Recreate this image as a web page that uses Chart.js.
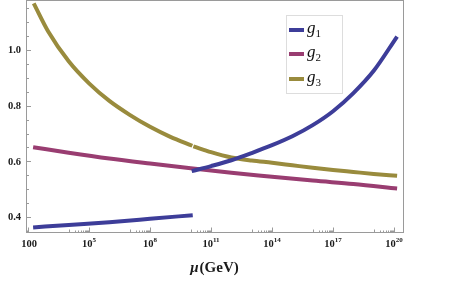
<!DOCTYPE html>
<html>
<head>
<meta charset="utf-8">
<script src="https://cdn.jsdelivr.net/npm/chart.js@4"></script>
<style>
  html, body { margin: 0; padding: 0; background: #fff; }
  #wrap { width: 454px; height: 283px; }
</style>
</head>
<body>
<div id="wrap"><canvas id="couplingChart" width="454" height="283"></canvas></div>
<script>
// Running couplings (x = log10 of mu in GeV)
const g1LowExp = [2.25, 4, 6, 8, 10.1];
const g1Low = [0.363, 0.372, 0.382, 0.394, 0.407];
const g1HighExp = [10.05, 11, 12, 13, 14, 15, 16, 17, 18, 19, 20.15];
const g1High = [0.565, 0.583, 0.604, 0.63, 0.658, 0.69, 0.73, 0.78, 0.845, 0.925, 1.048];

const g2Exp = [2.25, 4, 6, 8, 10, 12, 14, 16, 18, 20.15];
const g2 = [0.651, 0.631, 0.61, 0.592, 0.575, 0.559, 0.545, 0.531, 0.519, 0.503];

const g3LowExp = [2.28, 3, 4, 5, 6, 7, 8, 9, 10.08];
const g3Low = [1.167, 1.065, 0.959, 0.880, 0.817, 0.767, 0.724, 0.688, 0.656];
const g3HighExp = [10.13, 11, 12, 13, 14, 15, 16, 17, 18, 19, 20.15];
const g3High = [0.654, 0.633, 0.614, 0.603, 0.595, 0.586, 0.577, 0.569, 0.562, 0.555, 0.548];

// axis ticks
const xTickExp = [2, 5, 8, 11, 14, 17, 20];
const yTicks = [0.4, 0.6, 0.8, 1.0];
const legendNames = ['1', '2', '3'];

const blue = 'rgb(61, 61, 153)';
const purple = 'rgb(153, 61, 113)';
const olive = 'rgb(153, 139, 61)';

function pts(exps, vals) {
    return exps.map((e, i) => ({ x: Math.pow(10, e), y: vals[i] }));
}

function line(data, color) {
    return {
        data: data,
        borderColor: color,
        borderWidth: 4,
        pointRadius: 0,
        fill: false,
        cubicInterpolationMode: 'monotone',
        borderCapStyle: 'butt'
    };
}

const serif = '"Liberation Serif", "DejaVu Serif", serif';

// frame, ticks, labels and legend drawn on top of the scales
const framePlugin = {
    id: 'frame',
    afterDraw(chart) {
        const ctx = chart.ctx;
        const a = chart.chartArea;
        const xs = chart.scales.x;
        const ys = chart.scales.y;
        ctx.save();

        // frame
        ctx.strokeStyle = '#9a9a9a';
        ctx.lineWidth = 1;
        ctx.strokeRect(Math.round(a.left) + 0.5, Math.round(a.top) + 0.5,
            Math.round(a.right - a.left), Math.round(a.bottom - a.top) - 1);

        // y ticks every 0.05, labelled every 0.2
        ctx.beginPath();
        for (let v = 0.35; v <= 1.16; v += 0.05) {
            const y = Math.round(ys.getPixelForValue(v)) + 0.5;
            const major = yTicks.some(t => Math.abs(t - v) < 1e-6);
            ctx.moveTo(a.left, y);
            ctx.lineTo(a.left + (major ? 5 : 3), y);
        }
        // x ticks: majors plus the decade below each
        const bottom = Math.round(a.bottom) - 0.5;
        xTickExp.forEach(n => {
            const x = Math.round(xs.getPixelForValue(Math.pow(10, n))) + 0.5;
            ctx.moveTo(x, bottom);
            ctx.lineTo(x, bottom - 5);
            for (let k = 1; k <= 9; k++) {
                const v = k * Math.pow(10, n - 1);
                if (v < xs.min) continue;
                const mx = Math.round(xs.getPixelForValue(v)) + 0.5;
                ctx.moveTo(mx, bottom);
                ctx.lineTo(mx, bottom - (k === 1 ? 3 : 2));
            }
        });
        ctx.stroke();

        ctx.fillStyle = '#1a1a1a';
        // y labels
        ctx.font = 'bold 10.5px ' + serif;
        ctx.textAlign = 'right';
        ctx.textBaseline = 'middle';
        yTicks.forEach(v => {
            ctx.fillText(v.toFixed(1), 21, ys.getPixelForValue(v) + 0.5);
        });

        // x labels: 100, then 10^n
        ctx.textBaseline = 'alphabetic';
        xTickExp.forEach(n => {
            const x = xs.getPixelForValue(Math.pow(10, n));
            if (n === 2) {
                ctx.font = 'bold 10.5px ' + serif;
                ctx.textAlign = 'center';
                ctx.fillText('100', x + 1, 247);
                return;
            }
            ctx.font = 'bold 10.5px ' + serif;
            const base = ctx.measureText('10').width;
            ctx.font = 'bold 7px ' + serif;
            const exp = String(n);
            const ew = ctx.measureText(exp).width;
            const left = x - (base + ew) / 2;
            ctx.textAlign = 'left';
            ctx.font = 'bold 10.5px ' + serif;
            ctx.fillText('10', left, 247);
            ctx.font = 'bold 7px ' + serif;
            ctx.fillText(exp, left + base, 242);
        });

        // axis title
        ctx.font = 'italic bold 15px ' + serif;
        const mu = 'μ';
        const muW = ctx.measureText(mu).width;
        ctx.font = 'bold 15px ' + serif;
        const rest = '(GeV)';
        const restW = ctx.measureText(rest).width;
        let tx = 214 - (muW + restW) / 2;
        ctx.textAlign = 'left';
        ctx.font = 'italic bold 15px ' + serif;
        ctx.fillText(mu, tx, 272);
        ctx.font = 'bold 15px ' + serif;
        ctx.fillText(rest, tx + muW + 1, 272);

        // legend
        ctx.strokeStyle = '#dddddd';
        ctx.strokeRect(286.5, 15.5, 56, 78);
        const colors = [blue, purple, olive];
        const rows = [30, 54, 79];
        legendNames.forEach((nm, i) => {
            ctx.strokeStyle = colors[i];
            ctx.lineWidth = 4;
            ctx.beginPath();
            ctx.moveTo(289, rows[i]);
            ctx.lineTo(304, rows[i]);
            ctx.stroke();
            ctx.fillStyle = '#111';
            ctx.font = 'italic 17px ' + serif;
            ctx.fillText('g', 307, rows[i] + 3);
            const gw = ctx.measureText('g').width;
            ctx.font = '11px ' + serif;
            ctx.fillText(nm, 307 + gw, rows[i] + 7);
        });

        ctx.restore();
    }
};

const ctx = document.getElementById('couplingChart').getContext('2d');
const couplingChart = new Chart(ctx, {
    type: 'line',
    data: {
        datasets: [
            line(pts(g1LowExp, g1Low), blue),
            line(pts(g1HighExp, g1High), blue),
            line(pts(g2Exp, g2), purple),
            line(pts(g3LowExp, g3Low), olive),
            line(pts(g3HighExp, g3High), olive)
        ]
    },
    options: {
        responsive: false,
        animation: false,
        devicePixelRatio: 1,
        layout: { padding: { left: 26, top: 0, right: 51, bottom: 50 } },
        scales: {
            x: {
                type: 'logarithmic',
                min: Math.pow(10, 1.9),
                max: Math.pow(10, 20.44),
                display: false
            },
            y: {
                type: 'linear',
                min: 0.343,
                max: 1.179,
                display: false
            }
        },
        plugins: {
            legend: { display: false },
            tooltip: { enabled: false }
        }
    },
    plugins: [framePlugin]
});
</script>
</body>
</html>
